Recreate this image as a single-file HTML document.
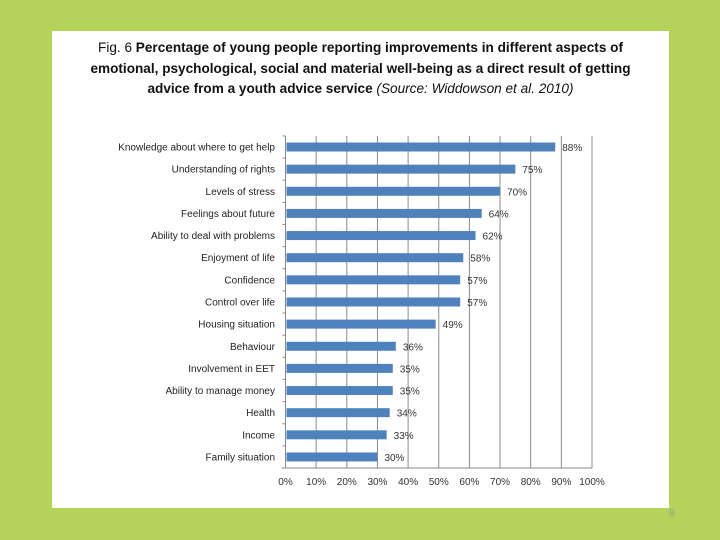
<!DOCTYPE html>
<html><head><meta charset="utf-8"><style>
body{margin:0;width:720px;height:540px;background:#b3d35a;overflow:hidden;font-family:"Liberation Sans",sans-serif}
#panel{position:absolute;left:52px;top:31px;width:617px;height:477px;background:#fff}
#title{position:absolute;left:52px;top:38px;width:617px;text-align:center;font-size:13.6px;line-height:20.5px;color:#111;font-weight:bold;white-space:nowrap}
#title i{font-weight:normal}
#title span{font-weight:normal}
#pg{position:absolute;left:669px;top:508px;font-size:10px;line-height:12px;color:#9a9a9a}
</style></head><body>
<div id="panel"></div>
<div id="title"><span>Fig. 6</span> Percentage of young people reporting improvements in different aspects of<br>emotional, psychological, social and material well-being as a direct result of getting<br>advice from a youth advice service <i>(Source: Widdowson et al. 2010)</i></div>
<div id="pg">8</div>
<svg id="chart" width="720" height="540" style="position:absolute;left:0;top:0"></svg>
<script>
const categories=["Knowledge about where to get help","Understanding of rights","Levels of stress","Feelings about future","Ability to deal with problems","Enjoyment of life","Confidence","Control over life","Housing situation","Behaviour","Involvement in EET","Ability to manage money","Health","Income","Family situation"];
const values=[88,75,70,64,62,58,57,57,49,36,35,35,34,33,30];
const ticks=[0,10,20,30,40,50,60,70,80,90,100];
const svg=document.getElementById('chart');const NS='http://www.w3.org/2000/svg';
const x0=285.5,x1=592,yTop=136,yBot=468,row0=147,rowStep=22.14;
const xs=v=>x0+(x1-x0)*v/100;
const ys=i=>row0+i*rowStep;
function mk(t,a,txt){const e=document.createElementNS(NS,t);for(const k in a)e.setAttribute(k,a[k]);if(txt!==undefined)e.textContent=txt;svg.appendChild(e);return e;}
ticks.forEach(t=>{
 if(t>0){const g=mk('line',{x1:xs(t),x2:xs(t),y1:yTop,y2:yBot,stroke:'#8a8a8a','stroke-width':1});
 
 }
 const l=mk('text',{x:xs(t),y:485,'text-anchor':'middle','font-size':10,fill:'#333','font-family':'Liberation Sans, sans-serif'},t+'%');
 
 
});
const ax=mk('line',{x1:x0-4,x2:x1,y1:yBot,y2:yBot,stroke:'#8a8a8a','stroke-width':1});


const ay=mk('line',{x1:x0,x2:x0,y1:yTop,y2:yBot,stroke:'#8a8a8a','stroke-width':1});


categories.forEach((c,i)=>{
 const y=ys(i);
 const tk=mk('line',{x1:x0-3,x2:x0,y1:y-rowStep/2,y2:y-rowStep/2,stroke:'#8a8a8a'});
 
 
 const b=mk('rect',{x:x0+1,y:y-4.5,width:xs(values[i])-x0-1,height:9,fill:'#4f81bd'});
 
 
 const lab=mk('text',{x:275,y:y+3.5,'text-anchor':'end','font-size':10,fill:'#222','font-family':'Liberation Sans, sans-serif'},c);
 
 
 const v=mk('text',{x:xs(values[i])+7,y:y+4,'font-size':10,fill:'#333','font-family':'Liberation Sans, sans-serif'},values[i]+'%');
 
 
});
</script>
</body></html>
